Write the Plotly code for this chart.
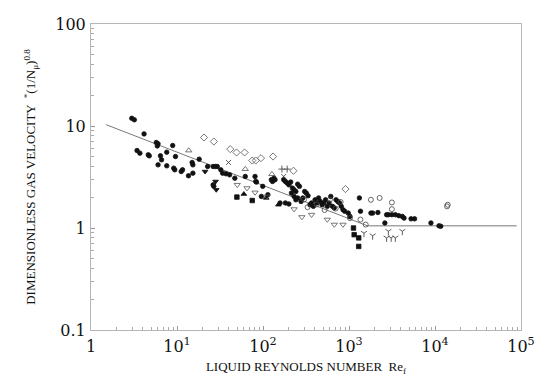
import plotly.graph_objects as go

# ---- data ----
fc_x = [2.98, 3.19, 4.14, 3.43, 3.70, 4.63, 4.76, 5.74, 6.02, 5.90, 6.02, 6.42, 6.61, 7.60, 7.60, 8.91,
        9.16, 9.42, 9.60, 11.6, 11.2, 13.6, 15.0, 15.3, 15.3, 18.1, 22.7, 26.3, 28.1, 29.4, 26.3, 26.8,
        32.3, 33.9, 37.2, 40.9, 47.0, 62.2, 80.8, 82.3, 83.9, 95.7, 99.3, 114, 125, 129, 134, 138, 158,
        174, 182, 191, 200, 210, 182, 200, 220, 230, 241, 253, 265, 214, 230, 241, 253, 277, 291, 305,
        319, 334, 351, 367, 385, 403, 423, 443, 464, 486, 509, 534, 559, 586, 614, 643, 674, 706, 740,
        776, 813, 851, 892, 980, 1026, 1321, 1359, 1798, 1884, 2168, 2612, 2738, 2869, 3150, 3459, 3800,
        4170, 4368, 5268, 5785, 8970, 11120, 11660]
fc_y = [11.9, 11.5, 8.37, 5.75, 5.42, 5.22, 5.10, 6.89, 6.68, 6.38, 4.16, 5.10, 4.66, 4.07, 5.54, 6.44,
        3.86, 3.72, 5.02, 3.72, 3.58, 3.25, 4.39, 4.16, 3.45, 4.73, 4.01, 4.01, 4.01, 4.01, 2.65, 2.56,
        3.72, 3.45, 3.40, 3.32, 3.08, 3.20, 3.20, 2.86, 2.82, 2.04, 2.56, 2.12, 2.97, 2.86, 3.08, 2.97, 1.76,
        2.97, 2.86, 2.76, 2.65, 2.82, 1.76, 1.72, 2.46, 2.37, 2.28, 2.69, 2.56, 2.20, 2.04, 1.89, 1.97, 1.82,
        1.97, 2.28, 2.20, 2.07, 1.69, 1.76, 1.63, 1.89, 1.76, 1.97, 1.82, 1.69, 1.76, 1.89, 1.63, 1.76,
        2.04, 1.63, 1.57, 1.89, 1.82, 1.76, 1.63, 1.51, 1.46, 1.40, 1.30, 1.97, 1.46, 1.40, 1.40, 1.42,
        1.12, 1.35, 1.35, 1.35, 1.35, 1.32, 1.30, 1.25, 1.23, 1.23, 1.12, 1.05, 1.04]

sq_x = [49.7, 75.0, 1127, 1148, 1297, 1297]
sq_y = [2.01, 1.86, 1.00, 0.86, 0.80, 0.66]

tdf_x = [21.2, 28.1, 28.6]
tdf_y = [3.58, 2.86, 2.37]

tuf_x = [59.9, 109, 151]
tuf_y = [2.15, 1.97, 1.69]

dia_x = [20.6, 26.8, 41.6, 49.2, 61.1, 75.0, 82.3, 94.7, 131, 226, 910]
dia_y = [7.71, 7.04, 5.93, 5.50, 5.50, 4.59, 4.59, 4.84, 5.02, 3.64, 2.41]

tuo_x = [13.7, 62.2, 127]
tuo_y = [5.75, 3.78, 3.37]

tdo_x = [50.2, 65.2, 80.8, 111, 230, 283, 367, 559, 674, 851]
tdo_y = [2.65, 2.46, 2.23, 2.04, 1.53, 1.28, 1.35, 1.21, 1.08, 1.08]

xm_x = [39.7, 174]
xm_y = [4.39, 3.20]

pl_x = [166, 191]
pl_y = [3.78, 3.78]

yd_x = [1492, 1884, 2738, 3093, 3459, 4170, 2869]
yd_y = [0.89, 0.84, 0.80, 0.80, 0.80, 0.93, 0.93]

oc_x = [3150, 3150, 2270, 1798, 14060, 13800, 1026, 1359, 1563, 300, 420, 600, 700, 520, 330, 800]
oc_y = [1.53, 1.78, 1.97, 1.89, 1.69, 1.63, 1.25, 1.21, 1.08, 1.90, 1.70, 1.90, 1.55, 1.50, 1.60, 1.80]

line_x = [1.5, 1640, 89000]
line_y = [10.3, 1.05, 1.05]

x_ticks = [1, 10, 100, 1000, 10000, 100000]
x_labels = ["1", "10<sup>1</sup>", "10<sup>2</sup>", "10<sup>3</sup>", "10<sup>4</sup>", "10<sup>5</sup>"]
y_ticks = [0.1, 1, 10, 100]
y_labels = ["0.1", "1", "10", "100"]
x_minor = [m * 10 ** k for k in range(0, 5) for m in range(2, 10)]
y_minor = [m * 10 ** k for k in range(-1, 2) for m in range(2, 10)]

fig = go.Figure()
fig.add_trace(go.Scatter(x=line_x, y=line_y, mode="lines",
                         line=dict(color="#555", width=0.8), hoverinfo="skip"))

def add(xs, ys, sym, size=4.5, color="#111", lw=0.8):
    fig.add_trace(go.Scatter(x=xs, y=ys, mode="markers",
                             marker=dict(symbol=sym, size=size, color=color,
                                         line=dict(color=color, width=lw))))

add(fc_x, fc_y, "circle", 4.5)
add(sq_x, sq_y, "square", 4.5)
add(tdf_x, tdf_y, "triangle-down", 5)
add(tuf_x, tuf_y, "triangle-up", 5)
add(dia_x, dia_y, "diamond-open", 5.5, "#555")
add(tuo_x, tuo_y, "triangle-up-open", 5.5, "#555")
add(tdo_x, tdo_y, "triangle-down-open", 5.5, "#555")
add(xm_x, xm_y, "x-thin-open", 5, "#333")
add(pl_x, pl_y, "cross-thin-open", 5, "#333")
add(yd_x, yd_y, "y-down-open", 5, "#333")
add(oc_x, oc_y, "circle-open", 5, "#444")

axis_common = dict(type="log", showgrid=False, zeroline=False, showline=True,
                   linecolor="#b5b5b5", linewidth=1, mirror=True, automargin=False,
                   ticks="inside", ticklen=4, tickcolor="#999",
                   tickfont=dict(family="DejaVu Serif", size=16, color="#111"))

fig.update_xaxes(**axis_common, range=[0, 5], tickvals=x_ticks, ticktext=x_labels,
                 ticklabelstandoff=2,
                 minor=dict(tickvals=x_minor, ticks="inside", ticklen=3, tickcolor="#aaa", showgrid=False),
                 title=dict(text="LIQUID REYNOLDS NUMBER  Re<sub>f</sub>",
                            font=dict(family="Liberation Serif", size=13, color="#111"),
                            standoff=6))
fig.update_yaxes(**axis_common, range=[-1, 2], tickvals=y_ticks, ticktext=y_labels,
                 ticklabelstandoff=1,
                 minor=dict(tickvals=y_minor, ticks="inside", ticklen=3, tickcolor="#aaa", showgrid=False),
                 title=dict(text="DIMENSIONLESS GAS VELOCITY  <sup>*</sup>(1/N<sub>μ</sub>)<sup>0.8</sup>",
                            font=dict(family="Liberation Serif", size=13, color="#111"),
                            standoff=16))

fig.update_layout(width=548, height=376, showlegend=False,
                  plot_bgcolor="white", paper_bgcolor="white",
                  margin=dict(l=83, r=35, t=16, b=54))

fig.write_html("out.html")
